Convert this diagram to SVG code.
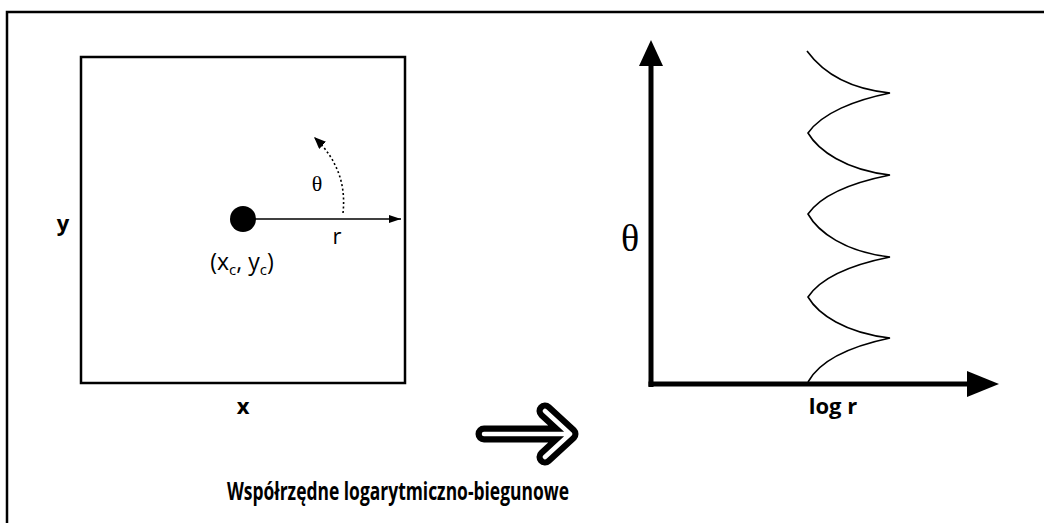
<svg xmlns="http://www.w3.org/2000/svg" width="1044" height="523" viewBox="0 0 1044 523">
  <style>
    .sans { font-family: "Open Sans", "Liberation Sans", sans-serif; fill: #000; }
    .bold { font-weight: 700; }
    .serif { font-family: "Liberation Serif", "DejaVu Serif", serif; fill: #000; }
    .thin { fill: none; stroke: #000; stroke-width: 1.6; }
  </style>
  <defs>
    <marker id="headSmall" viewBox="0 0 10 10" refX="10" refY="5" markerWidth="12" markerHeight="8" markerUnits="userSpaceOnUse" orient="auto" preserveAspectRatio="none">
      <path d="M0,0 L10,5 L0,10 Z" fill="#000"/>
    </marker>
    <marker id="headDot" viewBox="0 0 10 10" refX="10" refY="5" markerWidth="12" markerHeight="10" markerUnits="userSpaceOnUse" orient="auto" preserveAspectRatio="none">
      <path d="M0,0 L10,5 L0,10 Z" fill="#000"/>
    </marker>
  </defs>

  <!-- page frame (open to the right and bottom) -->
  <path d="M7,523 V12 H1044" fill="none" stroke="#000" stroke-width="2.5"/>

  <!-- image plane -->
  <g id="image-plane">
    <rect x="81" y="57" width="324" height="326" fill="none" stroke="#000" stroke-width="2.5"/>
    <text class="sans bold" x="63" y="231" font-size="22" text-anchor="middle">y</text>
    <text class="sans bold" x="243" y="414" font-size="22" text-anchor="middle">x</text>
  </g>

  <g id="centre">
    <circle cx="243" cy="219" r="13" fill="#000"/>
    <text class="sans" x="242" y="270" font-size="23" text-anchor="middle">(x<tspan font-size="15" dy="5">c</tspan><tspan dy="-5">, y</tspan><tspan font-size="15" dy="5">c</tspan><tspan dy="-5">)</tspan></text>
  </g>

  <g id="connectors">
    <!-- radius -->
    <line class="thin" x1="250" y1="219" x2="401" y2="219" marker-end="url(#headSmall)"/>
    <!-- rotation angle -->
    <path class="thin" d="M343,213 C346,185 338,160 314,137" stroke-dasharray="2,2.5" marker-end="url(#headDot)"/>
  </g>

  <g id="labels-polar">
    <text class="serif" x="317" y="191" font-size="22" text-anchor="middle">θ</text>
    <text class="sans" x="337" y="244" font-size="22" text-anchor="middle">r</text>
  </g>

  <!-- log-polar plot -->
  <g id="log-polar-axes">
    <line x1="651" y1="387" x2="651" y2="64" stroke="#000" stroke-width="5"/>
    <path d="M639,66 L651,40 L663,66 Z" fill="#000"/>
    <line x1="648.5" y1="384" x2="970" y2="384" stroke="#000" stroke-width="5"/>
    <path d="M967,371 L999,384 L967,397 Z" fill="#000"/>
    <text class="serif" x="630" y="251" font-size="38" text-anchor="middle">θ</text>
    <text class="sans bold" x="833" y="414" font-size="22" text-anchor="middle">log r</text>
  </g>

  <!-- sampled profile along theta -->
  <g id="profile">
    <path class="thin" d="M807,51 C818,66 840,88 890,93
      C855,100 822,113 808,133
      C818,150 845,170 890,175
      C855,182 822,194 808,214
      C818,232 845,252 890,257
      C855,264 822,276 808,297
      C818,314 845,333 890,338
      C852,346 820,360 808,382"/>
  </g>

  <!-- transform arrow -->
  <g id="transform-arrow">
    <path d="M484,434 H570 M545,411 L570,434 L545,457" fill="none" stroke="#000" stroke-width="17" stroke-linecap="round" stroke-linejoin="round"/>
    <path d="M484,434 H570 M545,411 L570,434 L545,457" fill="none" stroke="#fff" stroke-width="4.5" stroke-linecap="round" stroke-linejoin="round"/>
  </g>

  <text id="caption" class="sans bold" x="398" y="500" font-size="25" text-anchor="middle" textLength="342" lengthAdjust="spacingAndGlyphs">Współrzędne logarytmiczno-biegunowe</text>
</svg>
